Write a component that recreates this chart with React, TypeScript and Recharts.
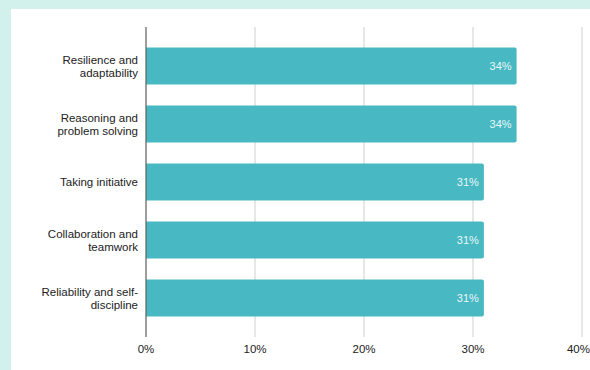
import React from "react";
import { BarChart, Bar, XAxis, YAxis, CartesianGrid, LabelList } from "recharts";

const skills = [
  "Resilience and\nadaptability",
  "Reasoning and\nproblem solving",
  "Taking initiative",
  "Collaboration and\nteamwork",
  "Reliability and self-\ndiscipline",
];
const shares = [34, 34, 31, 31, 31];
const xTicks = [0, 10, 20, 30, 40];

const data = skills.map((skill, i) => ({ skill, share: shares[i] }));

const FONT = "'Liberation Sans', Arial, sans-serif";

function SkillTick(props: any) {
  const { x, y, payload } = props;
  const lines: string[] = String(payload.value).split("\n");
  const lh = 13;
  const startDy = -((lines.length - 1) * lh) / 2;
  return (
    <text x={x} y={y} textAnchor="end" fontSize={11.5} fontFamily={FONT} fill="#222">
      {lines.map((l, i) => (
        <tspan key={i} x={x} dy={i === 0 ? startDy + 4 : lh}>
          {l}
        </tspan>
      ))}
    </text>
  );
}

export default function App() {
  return (
    <div style={{ position: "fixed", left: 0, top: 0, width: 590, height: 370, background: "#d3f1ec" }}>
      <div style={{ position: "absolute", left: 11, top: 9, width: 579, height: 361, background: "#fff" }} />
      <div style={{ position: "absolute", left: 0, top: 0 }}>
        <BarChart
          width={590}
          height={370}
          data={data}
          layout="vertical"
          margin={{ top: 27, right: 8, bottom: 3, left: 0 }}
          barCategoryGap="18%"
        >
          <CartesianGrid horizontal={false} stroke="#cfcfcf" />
          <XAxis
            type="number"
            domain={[0, 40]}
            ticks={xTicks}
            tickFormatter={(v) => `${v}%`}
            axisLine={false}
            tickLine={false}
            height={30}
            tick={{ fontSize: 11.5, fontFamily: FONT, fill: "#222" }}
          />
          <YAxis
            type="category"
            dataKey="skill"
            width={146}
            padding={{ top: 10, bottom: 10 }}
            axisLine={{ stroke: "#555" }}
            tickLine={false}
            tick={<SkillTick />}
            interval={0}
          />
          <Bar dataKey="share" fill="#48b9c3" radius={[0, 2, 2, 0]} isAnimationActive={false}>
            <LabelList
              dataKey="share"
              position="insideRight"
              offset={5}
              formatter={(v: any) => `${v}%`}
              style={{ fontSize: 11, fontFamily: FONT, fill: "#ffffff", fillOpacity: 0.9 }}
            />
          </Bar>
        </BarChart>
      </div>
    </div>
  );
}
